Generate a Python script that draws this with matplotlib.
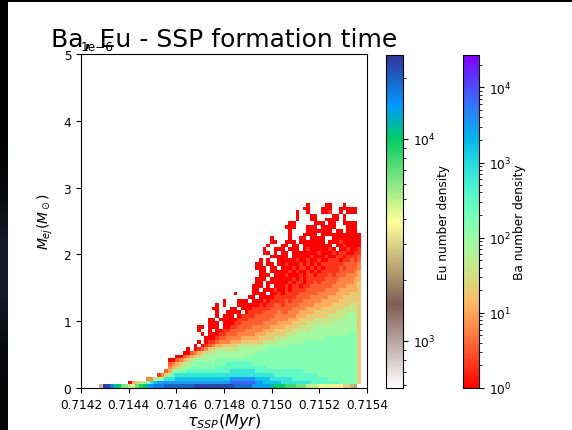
import numpy as np
import matplotlib
matplotlib.use("Agg")
import matplotlib.pyplot as plt
from matplotlib.colors import LogNorm
from matplotlib.patches import Rectangle

W, H = 572, 431
TITLE = "Ba, Eu - SSP formation time"
X_TICKS = [0.7142, 0.7144, 0.7146, 0.7148, 0.7150, 0.7152, 0.7154]

# Ba density codes, one string per row, top row first
BA_ROWS = [
 ".......... .......... .......... .......... .......... .......0.. ..00...0.. ..",
 ".......... .......... .......... .......... .......... ......00.. .000..0000 0.",
 ".......... .......... .......... .......... .......... ....0..0.. .001..0.00 0.",
 ".......... .......... .......... .......... .......... ....0...00 ....00.0.. ..",
 ".......... .......... .......... .......... .......... ....0...00 ..0000.0.. ..",
 ".......... .......... .......... .......... .......... ..00.....0 00.00..000 0.",
 ".......... .......... .......... .......... .......... .000...000 .0000...00 0.",
 ".......... .......... .......... .......... .......... ..0....000 0000.00.00 0.",
 ".......... .......... .......... .......... .......... ..0...0000 .000000000 00",
 ".......... .......... .......... .......... .......0.. ..0..00.00 00..000000 00",
 ".......... .......... .......... .......... .......00. .000.00000 00.0001000 00",
 ".......... .......... .......... .......... ......0... 00.00.0000 0000.00100 00",
 ".......... .......... .......... .......... .....0..00 0.000.0100 00010.0010 01",
 ".......... .......... .......... .......... .....00.0. 00.0000000 1000101100 11",
 ".......... .......... .......... .......... .......000 00.0000010 0010011011 12",
 ".......... .......... .......... .......... ....0.0..0 0000100100 1001110112 12",
 ".......... .......... .......... .......... ...00.00.0 0100010101 0111111222 23",
 ".......... .......... .......... .......... ...000.00. 0001011010 1011112122 23",
 ".......... .......... .......... .......... ....00.000 0010100101 0111112222 34",
 ".......... .......... .......... .......... ....000.00 0100010110 1112122233 34",
 ".......... .......... .......... .......... ...000.000 0001010111 1122223333 44",
 ".......... .......... .......... .......... ...00.0000 0010110112 1222233333 45",
 ".......... .......... .......... .......... ..000.0.00 0101101122 2222333344 45",
 ".......... .......... .......... .......... ..00.00010 0101111222 2233334444 45",
 ".......... .......... .......... .......0.. ..0000.001 0111122222 3333344445 55",
 ".......... .......... .......... .......... .00.000011 1111222233 3334444555 55",
 ".......... .......... .......... ....0...00 0.00010111 1212223333 3444445555 55",
 ".......... .......... .......... ..0.0...00 0000101122 1222233334 4444555556 65",
 ".......... .......... .......... .00...00.0 0011111222 2223333444 4555555666 65",
 ".......... .......... .......... ..0..0000. 0111122223 2233344445 5555566667 65",
 ".......... .......... .......... ..0.000.01 1112222233 3333444555 5556666677 75",
 ".......... .......... .......... 00.0000011 1222222333 3344455556 6666666777 75",
 ".......... .......... .......... 000.000112 2222233334 4445555666 6666777777 75",
 ".......... .......... .......00. 000.001122 2233333444 4555566667 7777777777 75",
 ".......... .......... .......0.. 0.00112222 3333344455 5556666677 7777777777 75",
 ".......... .......... ........0. 0001122233 3334445555 5666777777 7777777788 85",
 ".......... .......... .........0 0012233334 4444555566 6677777777 7788888888 85",
 ".......... .......... .......0.0 1123334445 5555566667 7777778888 8888888888 85",
 ".......... .......... ......0.01 2344555566 6666777777 7788888888 8888888888 85",
 ".......... .......... ....0.0123 5566666677 7777778888 8888888888 8888888888 85",
 ".......... .......... ...0023456 6677777777 7778888888 8888888888 8888888888 85",
 ".......... .......... .002345667 7777777777 8888888888 8888888888 8888888888 85",
 ".......... .........0 0234567777 7788888888 8888888888 8888888888 8888888888 85",
 ".......... .........2 3456778888 8888899999 9988888888 8888888888 8888888888 85",
 ".......... .........3 4567788888 8899999999 9999998888 8888888888 8888888888 85",
 ".......... ........24 7888999999 999999aaaa aaa9999999 9999998888 8888888888 85",
 ".......... ......1358 9aaaaaaaaa aaaaaaaaaa aaaaaaaa99 9999999999 8888888888 85",
 ".......... ...33678aa abbbbbbbbb bbbbbbcccc cccbbbbaaa aaa9999999 9998888888 85",
 "........04 5678abcccc cccccccccc ccccccdddd dddccbbbbb aaaaaaaa99 9999998888 85",
]
BA_VALUES = {"0": 1, "1": 2, "2": 3.5, "3": 6, "4": 11, "5": 20, "6": 40, "7": 80,
             "8": 150, "9": 300, "a": 700, "b": 1500, "c": 3500, "d": 7000}

# Eu density along the lowest row, one value per column
EU_ROW = [900, 24000, 24000, 17000, 12000, 10000, 7000, 6000, 5000, 4500,
          7000, 9000, 10000, 12500, 15000, 17000, 17000, 17000, 20000, 20000,
          20000, 20000, 20000, 20000, 20000, 20000, 23000, 23000, 23000, 23000,
          23000, 23000, 23000, 23000, 23000, 23000, 23000, 19000, 19000, 19000,
          19000, 19000, 14000, 14000, 14000, 14000, 14000, 12000, 10000, 10000,
          10000, 8000, 8000, 8000, 6500, 6500, 6500, 5000, 5000, 5000,
          4200, 4200, 4200, 4200, 3600, 3600, 3600, 3000, 3000, 2600, 2300]

N_COLS = 72
X_START, X_STOP = 0.714275, 0.715375
Y_CELL = 0.0554e-6
ROWS_BOTTOM_UP = BA_ROWS[::-1]

ba = np.full((len(ROWS_BOTTOM_UP) + 1, N_COLS), np.nan)
for r, row in enumerate(ROWS_BOTTOM_UP, start=1):
    chars = row.replace(" ", "").ljust(N_COLS, ".")[:N_COLS]
    for c, ch in enumerate(chars):
        if ch != ".":
            ba[r, c] = BA_VALUES[ch]
eu = np.full((2, N_COLS), np.nan)
eu[0, :len(EU_ROW)] = EU_ROW

x_edges = np.linspace(X_START, X_STOP, N_COLS + 1)
y_edges = Y_CELL * np.arange(ba.shape[0] + 1)
y_edges_eu = Y_CELL * np.arange(3)


def box(l, t, r, b):
    return [l / W, 1 - b / H, (r - l) / W, (b - t) / H]


fig = plt.figure(figsize=(W / 100, H / 100), dpi=100, facecolor="black")
fig.add_artist(Rectangle((8 / W, 0), 1 - 8 / W, 1 - 3 / H, transform=fig.transFigure,
                         facecolor="white", edgecolor="none", zorder=-5))
strip = fig.add_axes(box(0, 0, 8, 431), zorder=-4)
strip.axis("off")
strip.imshow([[0], [0], [0], [0.3], [1], [1], [0.4], [0.2]], aspect="auto", interpolation="bilinear",
             cmap=matplotlib.colors.LinearSegmentedColormap.from_list("s", ["#000000", "#121a28"]),
             vmin=0, vmax=1)

ax = fig.add_axes(box(81, 55, 367, 389))
ba_norm = LogNorm(vmin=1, vmax=2.7e4)
eu_norm = LogNorm(vmin=582, vmax=2.6e4)
m_ba = ax.pcolormesh(x_edges, y_edges, np.ma.masked_invalid(ba), cmap="rainbow_r", norm=ba_norm)
m_eu = ax.pcolormesh(x_edges, y_edges_eu, np.ma.masked_invalid(eu), cmap="terrain_r", norm=eu_norm)
ax.set_xlim(0.7142, 0.7154)
ax.set_ylim(0, 5e-6)
ax.set_xticks(X_TICKS)
ax.set_xticklabels([f"{t:.4f}" for t in X_TICKS])
ax.tick_params(labelsize=8.7)
ax.yaxis.get_offset_text().set_fontsize(8.7)
ax.set_xlabel(r"$\tau_{SSP}(Myr)$", fontsize=11.5, labelpad=0)
ax.set_ylabel(r"$M_{ej}(M_\odot)$", fontsize=10, labelpad=6)
ax.set_title(TITLE, fontsize=18, y=1.0, pad=6)

cax_eu = fig.add_axes(box(385.5, 56, 403, 389))
cb_eu = fig.colorbar(m_eu, cax=cax_eu)
cb_eu.ax.tick_params(labelsize=8.7)
cb_eu.set_label("Eu number density", fontsize=8.7, labelpad=1)

cax_ba = fig.add_axes(box(463, 56, 479, 389))
cb_ba = fig.colorbar(m_ba, cax=cax_ba)
cb_ba.ax.tick_params(labelsize=8.7)
cb_ba.set_label("Ba number density", fontsize=8.7, labelpad=1)

fig.savefig("out.png", dpi=100, facecolor="black")
